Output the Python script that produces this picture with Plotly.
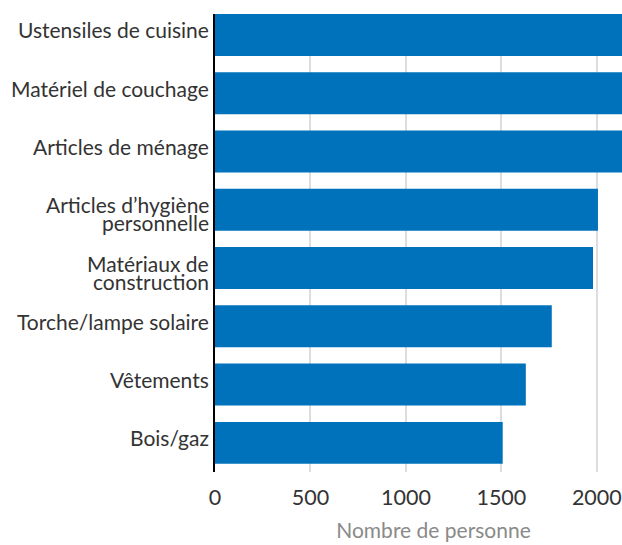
import plotly.graph_objects as go

categories = ["Ustensiles de cuisine", "Matériel de couchage", "Articles de ménage",
              "Articles d’hygiène<br>personnelle", "Matériaux de<br>construction",
              "Torche/lampe solaire", "Vêtements", "Bois/gaz"]
values = [2250, 2240, 2230, 2006, 1980, 1764, 1628, 1507]
x_ticks = [0, 500, 1000, 1500, 2000]

fig = go.Figure(go.Bar(
    x=values, y=categories, orientation="h",
    marker=dict(color="#0072BC", line=dict(width=0)),
    width=0.72, hoverinfo="x+y",
))

# category labels drawn as text at each category position (tight line spacing)
annotations = []
for cat in categories:
    for i, line in enumerate(cat.split("<br>")):
        annotations.append(dict(
            x=0, xref="paper", y=cat, yref="y", text=line, showarrow=False,
            xanchor="right", yanchor="middle", xshift=-4, yshift=5 - 18 * i,
            font=dict(family="Lato", size=21, color="#333333"),
        ))

fig.update_layout(
    width=652, height=545,
    margin=dict(l=215, r=0, t=14, b=73),
    plot_bgcolor="white", paper_bgcolor="white",
    font=dict(family="Lato", size=21.5, color="#333333"),
    showlegend=False,
    annotations=annotations,
    xaxis=dict(
        range=[0, 2289], tickvals=x_ticks, showgrid=True, gridcolor="#dddddd", gridwidth=2,
        zeroline=False, showline=False, ticks="", ticklabelstandoff=10,
        title=dict(text="Nombre de personne", font=dict(color="#8a8a8a", size=21), standoff=14),
    ),
    yaxis=dict(
        range=[7.5, -0.36], showgrid=False, zeroline=False, showticklabels=False,
        showline=True, linecolor="black", linewidth=2, ticks="",
    ),
)

fig.write_html("out.html", config={"displayModeBar": False},
               post_script="document.body.style.margin='0';document.body.style.overflow='hidden';")
